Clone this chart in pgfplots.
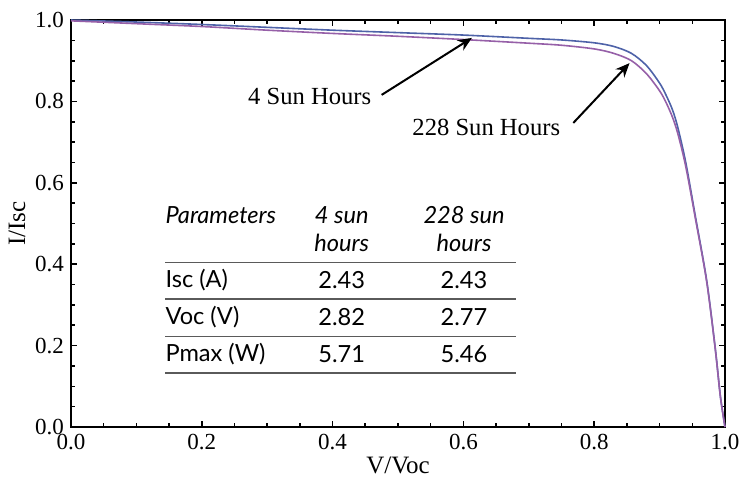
\documentclass[border=0pt]{standalone}
\usepackage{pgfplots}
\pgfplotsset{compat=1.18}
\usepackage{fontspec}
\setmainfont{Liberation Serif}
\newfontfamily\tabfont{Lato}
\usetikzlibrary{arrows.meta}

\definecolor{sunfour}{RGB}{78,98,168}
\definecolor{suntwo}{RGB}{150,96,168}
\definecolor{rulegray}{RGB}{90,90,90}

\begin{document}
\begin{tikzpicture}
\path[use as bounding box] (-35.5pt,-26pt) rectangle (334.5pt,213.5pt);
\begin{axis}[
    at={(0,0)}, anchor=south west,
    width=327pt, height=203.5pt,
    scale only axis,
    xmin=0, xmax=1, ymin=0, ymax=1,
    xtick={0,0.2,...,1.0},
    ytick={0,0.2,...,1.0},
    minor tick num=3,
    tick align=inside,
    major tick length=3pt,
    minor tick length=1.8pt,
    every tick/.style={black, line width=0.8pt},
    axis line style={line width=0.6pt},
    /pgf/number format/assume math mode=true,
    xticklabel={\pgfmathprintnumber[fixed, fixed zerofill, precision=1]{\tick}},
    yticklabel={\pgfmathprintnumber[fixed, fixed zerofill, precision=1]{\tick}},
    tick label style={font=\fontsize{11.5}{13}\selectfont},
    label style={font=\fontsize{12.5}{14}\selectfont},
    xlabel={V/Voc},
    ylabel={I/Isc},
    xlabel style={yshift=3pt},
    ylabel style={yshift=-2pt},
    clip=false,
]

% 4 sun hours
\addplot[color=sunfour, line width=0.8pt, smooth] coordinates {
(0,1.000) (0.1,0.995) (0.2,0.989) (0.3,0.982) (0.4,0.975) (0.5,0.969)
(0.6,0.963) (0.7,0.955) (0.75,0.951) (0.8,0.944) (0.83,0.935) (0.857,0.918)
(0.88,0.888) (0.90,0.845) (0.91,0.815) (0.92,0.778) (0.928,0.735)
(0.94,0.650) (0.955,0.515) (0.972,0.360) (0.985,0.195) (0.993,0.075) (1.0,0.0)
};

% 228 sun hours
\addplot[color=suntwo, line width=0.8pt, smooth] coordinates {
(0,0.998) (0.1,0.991) (0.2,0.984) (0.3,0.975) (0.4,0.967) (0.5,0.960)
(0.6,0.952) (0.7,0.943) (0.75,0.938) (0.8,0.929) (0.83,0.918) (0.857,0.900)
(0.88,0.868) (0.90,0.826) (0.91,0.797) (0.92,0.760) (0.928,0.720)
(0.94,0.640) (0.955,0.510) (0.972,0.357) (0.985,0.193) (0.993,0.074) (1.0,0.0)
};

% annotations
\node[font=\fontsize{12.3}{14}\selectfont, fill=white, inner sep=1pt] at (axis cs:0.365,0.811) {4 Sun Hours};
\draw[line width=1pt, -{Stealth[length=7pt,width=6pt]}] (axis cs:0.475,0.816) -- (axis cs:0.613,0.956);
\node[font=\fontsize{12.3}{14}\selectfont, fill=white, inner sep=1pt] at (axis cs:0.635,0.737) {228 Sun Hours};
\draw[line width=1pt, -{Stealth[length=7pt,width=6pt]}] (axis cs:0.768,0.747) -- (axis cs:0.854,0.894);

% parameter table
\begin{scope}[font=\tabfont\fontsize{11.8}{14}\selectfont]
\node[anchor=west, inner sep=0pt] at (axis cs:0.144,0.521) {\itshape Parameters};
\node[inner sep=0pt] at (axis cs:0.414,0.521) {\itshape 4 sun};
\node[inner sep=0pt] at (axis cs:0.414,0.452) {\itshape hours};
\node[inner sep=0pt] at (axis cs:0.601,0.521) {\itshape 228 sun};
\node[inner sep=0pt] at (axis cs:0.601,0.452) {\itshape hours};
\node[anchor=west, inner sep=0pt] at (axis cs:0.144,0.361) {Isc (A)};
\node[inner sep=0pt] at (axis cs:0.414,0.361) {2.43};
\node[inner sep=0pt] at (axis cs:0.601,0.361) {2.43};
\node[anchor=west, inner sep=0pt] at (axis cs:0.144,0.270) {Voc (V)};
\node[inner sep=0pt] at (axis cs:0.414,0.270) {2.82};
\node[inner sep=0pt] at (axis cs:0.601,0.270) {2.77};
\node[anchor=west, inner sep=0pt] at (axis cs:0.144,0.178) {Pmax (W)};
\node[inner sep=0pt] at (axis cs:0.414,0.178) {5.71};
\node[inner sep=0pt] at (axis cs:0.601,0.178) {5.46};
\end{scope}
\draw[rulegray, line width=0.8pt] (axis cs:0.144,0.404) -- (axis cs:0.680,0.404);
\draw[rulegray, line width=0.8pt] (axis cs:0.144,0.314) -- (axis cs:0.680,0.314);
\draw[rulegray, line width=0.8pt] (axis cs:0.144,0.222) -- (axis cs:0.680,0.222);
\draw[rulegray, line width=0.8pt] (axis cs:0.144,0.132) -- (axis cs:0.680,0.132);

\end{axis}
\end{tikzpicture}
\end{document}
